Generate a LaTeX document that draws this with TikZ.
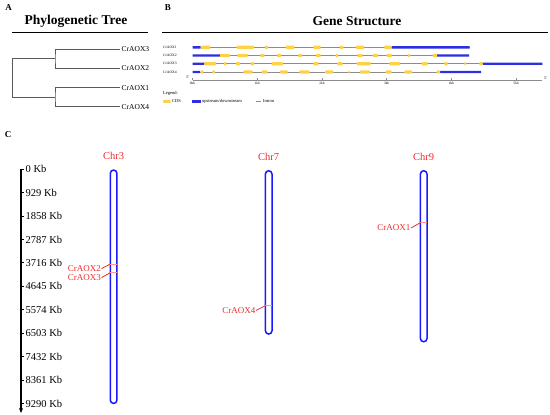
\documentclass[tikz,border=0pt]{standalone}
\usepackage{fontspec}
\setmainfont{Liberation Serif}
\usetikzlibrary{positioning,arrows.meta}
\definecolor{cdsyellow}{RGB}{255,210,70}
\definecolor{utrblue}{RGB}{45,45,225}
\definecolor{chrblue}{RGB}{25,25,255}
\definecolor{markred}{RGB}{238,45,45}
\definecolor{markpink}{RGB}{255,150,150}
\tikzset{
  panel/.style={font=\fontsize{9}{10}\selectfont\bfseries, inner sep=0pt},
  ptitle/.style={font=\fontsize{13.5}{15}\selectfont\bfseries, inner sep=0pt},
  leaf/.style={anchor=west, inner sep=1.5pt, font=\fontsize{7.5}{9}\selectfont},
  treeline/.style={draw=black!65, line width=0.9pt},
  gname/.style={anchor=west, inner sep=0pt, font=\fontsize{3.7}{4.5}\selectfont},
  legtext/.style={anchor=west, inner sep=0pt, font=\fontsize{4.5}{5.5}\selectfont},
  cds/.style={fill=cdsyellow, rounded corners=0.8pt},
  utr/.style={fill=utrblue},
  intron/.style={draw=black!45, line width=0.6pt},
  chrom/.style={draw=chrblue, line width=1.5pt, rounded corners=3.3pt, minimum width=6.6pt, inner sep=0pt, anchor=north},
  chrname/.style={text=markred, font=\fontsize{10.5}{12}\selectfont, inner sep=0pt},
  aoxname/.style={text=markred, font=\fontsize{9}{10}\selectfont, inner sep=0.5pt, anchor=east},
  kb/.style={anchor=west, inner sep=0pt, font=\fontsize{10.5}{12}\selectfont},
}

\begin{document}
\begin{tikzpicture}[x=1pt,y=-1pt]
\useasboundingbox (0,0) rectangle (550,415);

% A: phylogenetic tree
\node (pa) [panel] at (8.5,7.5) {A};
\node (ta) [ptitle] at (76,21.5) {Phylogenetic Tree};
\draw[line width=1.3pt] (12.3,32.3) -- (148.3,32.3);
\node (t3) [leaf] at (120,49.3) {CrAOX3};
\node (t2) [leaf] at (120,68.5) {CrAOX2};
\node (t1) [leaf] at (120,87.7) {CrAOX1};
\node (t4) [leaf] at (120,106.7) {CrAOX4};
\coordinate (n32) at (55,58.9);
\coordinate (n14) at (55,97.2);
\coordinate (nroot) at (12.7,78);
\draw[treeline] (t3.west) -| (n32) |- (t2.west);
\draw[treeline] (t1.west) -| (n14) |- (t4.west);
\draw[treeline] (n32) -| (nroot) |- (n14);

% B: gene structure
\node (pb) [panel] at (168,7.5) {B};
\node (tb) [ptitle] at (357,21.5) {Gene Structure};
\draw[line width=1.3pt] (162.3,32.3) -- (548,32.3);
\node (g1) [gname] at (163,47.3) {CrAOX1};
\node (g2) [gname] at (163,55.5) {CrAOX2};
\node (g3) [gname] at (163,63.7) {CrAOX3};
\node (g4) [gname] at (163,72) {CrAOX4};
% CrAOX1
\draw[intron] (192.5,47.3) -- (469.5,47.3);
\fill[utr] (192.5,46.1) rectangle (200.7,48.5) (391.7,46.1) rectangle (469.5,48.5);
\foreach \a/\b in {200.7/210.3,236.7/254,265/268,285.7/294.3,313.3/320.7,340/343.3,355.7/364.3,384.3/391.7}
  \fill[cds] (\a,45.6) rectangle (\b,49);
% CrAOX2
\draw[intron] (192.5,55.5) -- (469,55.5);
\fill[utr] (192.5,54.3) rectangle (220,56.7) (437,54.3) rectangle (469,56.7);
\foreach \a/\b in {220/230,237.3/247.7,260.3/264.3,277/281,298.3/302,316/320.7,335.7/338,357.3/362.7,372.7/378,386.7/391.7,408/410,432.5/437}
  \fill[cds] (\a,53.8) rectangle (\b,57.2);
% CrAOX3
\draw[intron] (192.5,63.7) -- (542.3,63.7);
\fill[utr] (192.5,62.5) rectangle (204.3,64.9) (482.7,62.5) rectangle (542.3,64.9);
\foreach \a/\b in {204.3/216,224/226.3,236/240,250.7/254,271.7/283,313.3/318.3,337.3/342.7,356.7/370.7,389.3/400,421.7/427.7,444.3/447.7,464.3/466,479.3/482.7}
  \fill[cds] (\a,62) rectangle (\b,65.4);
% CrAOX4
\draw[intron] (192.5,72) -- (481,72);
\fill[utr] (192.5,70.8) rectangle (200,73.2) (440,70.8) rectangle (481,73.2);
\foreach \a/\b in {200.7/203.3,212.3/215,243.3/252.7,261.7/267.3,280/287.7,299.3/309.7,325/333.3,348.3/349.5,360/370,385.7/391.7,404.3/412.3,436.7/440}
  \fill[cds] (\a,70.3) rectangle (\b,73.7);
% scale
\draw[intron] (192.5,80.3) -- (541.7,80.3);
\foreach \k in {0,...,5} {
  \draw[intron] (192.5+64.75*\k,80.3) -- (192.5+64.75*\k,78.3);
  \node (s\k) [inner sep=0pt, font=\fontsize{3.5}{4}\selectfont] at (192.5+64.75*\k,83.8) {\k kb};
}
\node (p5) [inner sep=0pt, font=\fontsize{4}{5}\selectfont] at (188,77.3) {5'};
\node (p3) [inner sep=0pt, font=\fontsize{4}{5}\selectfont] at (545.5,77.8) {3'};
% legend
\node (leg) [legtext] at (163,93) {Legend:};
\fill[cds] (163,99.8) rectangle (170.5,102.8);
\node (lcds) [legtext] at (172,101.3) {CDS};
\fill[utr] (192.3,100.1) rectangle (200.7,102.5);
\node (lutr) [legtext] at (202,101.3) {upstream/downstream};
\draw[intron] (255.7,101.3) -- (261,101.3);
\node (lint) [legtext] at (263,101.3) {Intron};

% C: chromosome positions
\node (pc) [panel] at (8,135) {C};
\draw[line width=1.3pt, -{Stealth[length=5pt,width=4pt]}] (21,168.6) -- (21,413);
\foreach \i in {0,...,10} {
  \pgfmathsetmacro\ty{169.3+23.42*\i}
  \pgfmathtruncatemacro\kv{929*\i}
  \draw[line width=1pt] (21,\ty) -- (24,\ty);
  \node (kb\i) [kb] at (25.5,\ty) {\kv\ Kb};
}
\node (chr3) [chrom, minimum height=233.4pt] at (113.6,169.3) {};
\node (chr7) [chrom, minimum height=163.3pt] at (268.7,170) {};
\node (chr9) [chrom, minimum height=171pt] at (423.7,170) {};
\node (c3) [chrname, above=9pt of chr3] {Chr3};
\node (c7) [chrname, above=9pt of chr7] {Chr7};
\node (c9) [chrname, above=9pt of chr9] {Chr9};
% gene loci
\draw[markpink, line width=0.8pt] (110.3,264) -- (117,264) (110.3,272.7) -- (117,272.7)
  (265.4,305.7) -- (272,305.7) (420.4,222.7) -- (427,222.7);
\coordinate (m2) at (110.3,264);
\coordinate (m3) at (110.3,272.7);
\coordinate (m4) at (265.4,305.7);
\coordinate (m1) at (420.4,222.7);
\node (a2) [aoxname] at (101.5,268.6) {CrAOX2};
\node (a3) [aoxname] at (101.5,277.6) {CrAOX3};
\node (a4) [aoxname] at (256,310.4) {CrAOX4};
\node (a1) [aoxname] at (411,228) {CrAOX1};
\draw[markred, line width=0.8pt] (m2) -- (a2.east)
  (m3) -- (a3.east)
  (m4) -- (a4.east)
  (m1) -- (a1.east);
\end{tikzpicture}
\end{document}
